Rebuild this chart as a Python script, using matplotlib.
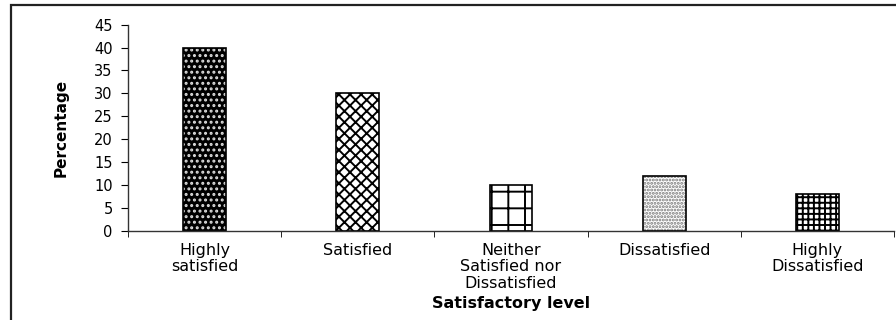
import matplotlib
matplotlib.use("Agg")
from matplotlib import pyplot as plt
from matplotlib.patches import Rectangle
import numpy as np

# data
categories = ["Highly\nsatisfied", "Satisfied", "Neither\nSatisfied nor\nDissatisfied",
              "Dissatisfied", "Highly\nDissatisfied"]
percentages = [40, 30, 10, 12, 8]
y_ticks = [0, 5, 10, 15, 20, 25, 30, 35, 40, 45]

# fill / hatch per bar (face, hatch colour, hatch)
styles = [
    ("black", "#dddddd", "..."),
    ("white", "black", "xxx"),
    ("white", "black", "+"),
    ("white", "#777777", "....."),
    ("white", "black", "+++"),
]

plt.rcParams["font.family"] = ["DejaVu Sans"]
plt.rcParams["hatch.linewidth"] = 1.4

fig = plt.figure(figsize=(8.96, 3.2), dpi=100)
ax = fig.add_axes([128 / 896, 1 - 230.7 / 320, 766 / 896, 206 / 320])

x = np.arange(len(categories))
for i, (face, hcol, hatch) in enumerate(styles):
    ax.bar(x[i], percentages[i], width=0.28, color=face, edgecolor=hcol,
           hatch=hatch, linewidth=0)
# outlines
ax.bar(x, percentages, width=0.28, fill=False, edgecolor="black", linewidth=1.2)

ax.set_xlim(-0.5, len(categories) - 0.5)
ax.set_ylim(0, 45)
ax.set_yticks(y_ticks)
ax.set_xticks(x)
ax.set_xticklabels(categories, fontsize=11.5, linespacing=1.1)
ax.set_xticks(np.arange(len(categories) + 1) - 0.5, minor=True)
ax.tick_params(axis="x", which="major", length=0, pad=9)
ax.tick_params(axis="x", which="minor", length=4, direction="out", color="black")
ax.tick_params(axis="y", length=5, direction="out", labelsize=10.5, pad=6)

for side in ["top", "right"]:
    ax.spines[side].set_visible(False)
for side in ["left", "bottom"]:
    ax.spines[side].set_color("#333333")
    ax.spines[side].set_linewidth(1.0)

ax.set_xlabel("Satisfactory level", fontsize=11.5, fontweight="bold", labelpad=4)
ax.set_ylabel("Percentage", fontsize=11, fontweight="bold",
              family=["Liberation Sans Narrow", "DejaVu Sans"], labelpad=18)

# outer frame (only left and top edges are visible in the picture)
frame = Rectangle((11 / 896, -0.2), 1.2, 1.2 - 4.5 / 320, transform=fig.transFigure,
                  fill=False, edgecolor="#222222", linewidth=1.6, clip_on=False)
fig.patches.append(frame)

fig.savefig("out.png", dpi=100)
